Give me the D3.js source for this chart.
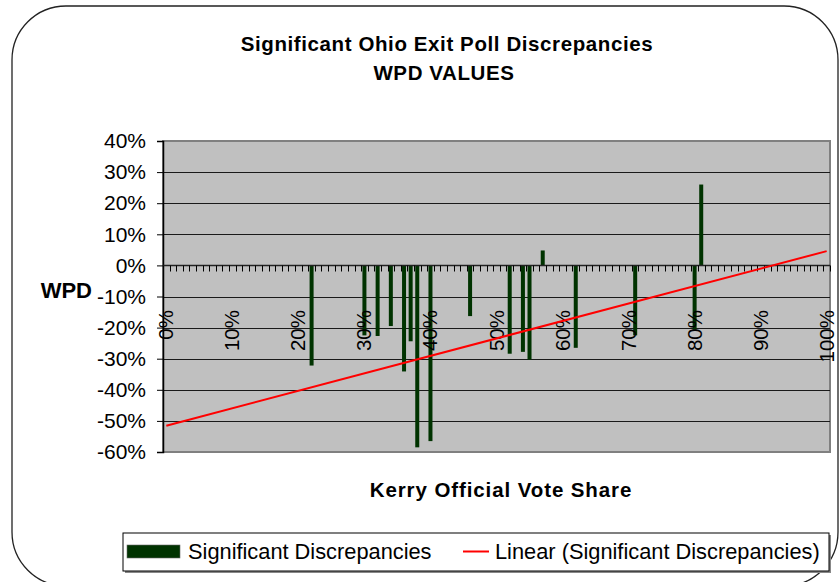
<!DOCTYPE html>
<html>
<head>
<meta charset="utf-8">
<script src="https://cdn.jsdelivr.net/npm/d3@7"></script>
<style>
  html, body { margin: 0; padding: 0; background: #fff; }
  svg { display: block; font-family: "Liberation Sans", Arial, sans-serif; }
</style>
</head>
<body>
<svg id="chart" width="840" height="582"></svg>
<script>
// ---- data ----
const titleLines = ["Significant Ohio Exit Poll Discrepancies", "WPD VALUES"];
const xTitle = "Kerry Official Vote Share";
const yTitle = "WPD";
const seriesName = "Significant Discrepancies";
const trendName = "Linear (Significant Discrepancies)";
// Kerry official vote share (%) of each significant precinct
const voteShare = [22, 30, 32, 34, 36, 37, 38, 40, 46, 52, 54, 55, 57, 62, 71, 80, 81];
// WPD value (%) of each precinct
const wpd = [-32.2, -22.5, -22.7, -19.5, -34.1, -24.4, -58.5, -56.5, -16.3, -28.4, -27.8, -30.3, 4.8, -26.5, -22.5, -20.7, 26.0];
const yTicks = [40, 30, 20, 10, 0, -10, -20, -30, -40, -50, -60];
const xLabelTicks = [0, 10, 20, 30, 40, 50, 60, 70, 80, 90, 100];
const categories = d3.range(0, 101); // 0%..100% category axis

// ---- layout ----
const svg = d3.select("#chart");
const plot = { left: 163, right: 830, top: 141, bottom: 452 };

// outer rounded frame
svg.append("rect")
  .attr("x", 12).attr("y", 6).attr("width", 826).attr("height", 580)
  .attr("rx", 54).attr("ry", 54)
  .attr("fill", "#fff").attr("stroke", "#222").attr("stroke-width", 1.3);

const x = d3.scaleLinear().domain([-0.5, 100.5]).range([plot.left, plot.right]);
const y = d3.scaleLinear().domain([-60, 40]).range([plot.bottom, plot.top]);

// plot area background
svg.append("rect")
  .attr("x", plot.left).attr("y", plot.top)
  .attr("width", plot.right - plot.left).attr("height", plot.bottom - plot.top)
  .attr("fill", "#C0C0C0").attr("stroke", "#808080").attr("stroke-width", 2);

// gridlines
svg.append("g").selectAll("line").data(yTicks.filter(d => d !== 40 && d !== -60)).join("line")
  .attr("x1", plot.left).attr("x2", plot.right)
  .attr("y1", d => Math.round(y(d)) + 0.5).attr("y2", d => Math.round(y(d)) + 0.5)
  .attr("stroke", "#1a1a1a").attr("stroke-width", 1);

// y axis
const yAxis = d3.axisLeft(y).tickValues(yTicks).tickSize(6).tickPadding(11)
  .tickFormat(d => d + "%");
const gy = svg.append("g").attr("transform", `translate(${plot.left},0)`).call(yAxis);
gy.select(".domain").attr("stroke", "#000").attr("stroke-width", 1.5);
gy.selectAll(".tick line").attr("stroke", "#000");
gy.selectAll(".tick text").attr("font-size", 21).attr("fill", "#000")
  .attr("font-family", "Liberation Sans, Arial, sans-serif");

// bars
svg.append("g").selectAll("rect").data(voteShare.map((v, i) => ({ x: v, y: wpd[i] }))).join("rect")
  .attr("x", d => x(d.x) - 2)
  .attr("width", 4)
  .attr("y", d => Math.min(y(0), y(d.y)))
  .attr("height", d => Math.abs(y(d.y) - y(0)))
  .attr("fill", "#003300");

// category axis along zero line
const y0 = Math.round(y(0)) + 0.5;
svg.append("line")
  .attr("x1", plot.left).attr("x2", plot.right).attr("y1", y0).attr("y2", y0)
  .attr("stroke", "#222").attr("stroke-width", 1.5);
svg.append("g").selectAll("line").data(d3.range(0, categories.length + 1)).join("line")
  .attr("x1", d => Math.round(x(d - 0.5)) + 0.5).attr("x2", d => Math.round(x(d - 0.5)) + 0.5)
  .attr("y1", y0).attr("y2", y0 + 6)
  .attr("stroke", "#000").attr("stroke-width", 1);

// rotated category labels
svg.append("g").selectAll("text").data(xLabelTicks).join("text")
  .attr("transform", d => `translate(${x(d) + 7},310) rotate(-90)`)
  .attr("text-anchor", "end")
  .attr("font-size", 20.5).attr("fill", "#000")
  .text(d => d + "%");

// linear trendline (least squares)
const mx = d3.mean(voteShare), my = d3.mean(wpd);
const slope = d3.sum(voteShare, (v, i) => (v - mx) * (wpd[i] - my)) / d3.sum(voteShare, v => (v - mx) ** 2);
const intercept = my - slope * mx;
const trend = [0, 100].map(v => [v, intercept + slope * v]);
svg.append("path")
  .attr("d", d3.line().x(d => x(d[0])).y(d => y(d[1]))(trend))
  .attr("stroke", "#FF0000").attr("stroke-width", 2).attr("fill", "none");

// titles
svg.append("text").attr("x", 447).attr("y", 51).attr("text-anchor", "middle")
  .attr("font-size", 20.5).attr("font-weight", "bold").attr("letter-spacing", 0.6)
  .text(titleLines[0]);
svg.append("text").attr("x", 444).attr("y", 80).attr("text-anchor", "middle")
  .attr("font-size", 20.5).attr("font-weight", "bold").attr("letter-spacing", 0.6)
  .text(titleLines[1]);
svg.append("text").attr("x", 501).attr("y", 497).attr("text-anchor", "middle")
  .attr("font-size", 20.5).attr("font-weight", "bold").attr("letter-spacing", 0.9)
  .text(xTitle);
svg.append("text").attr("x", 92).attr("y", 298).attr("text-anchor", "end")
  .attr("font-size", 22).attr("font-weight", "bold")
  .text(yTitle);

// legend
const lg = svg.append("g");
lg.append("rect").attr("x", 125).attr("y", 535).attr("width", 706).attr("height", 38)
  .attr("fill", "#888");
lg.append("rect").attr("x", 123).attr("y", 533).attr("width", 706).attr("height", 38)
  .attr("fill", "#fff").attr("stroke", "#000").attr("stroke-width", 1);
lg.append("rect").attr("x", 127).attr("y", 545).attr("width", 53).attr("height", 13)
  .attr("fill", "#003300").attr("stroke", "#6a6a6a").attr("stroke-width", 0.6);
lg.append("text").attr("x", 188).attr("y", 559).attr("font-size", 21.8).text(seriesName);
lg.append("line").attr("x1", 463).attr("x2", 489).attr("y1", 551.5).attr("y2", 551.5)
  .attr("stroke", "#FF0000").attr("stroke-width", 2);
lg.append("text").attr("x", 495).attr("y", 559).attr("font-size", 21.8).text(trendName);
</script>
</body>
</html>
